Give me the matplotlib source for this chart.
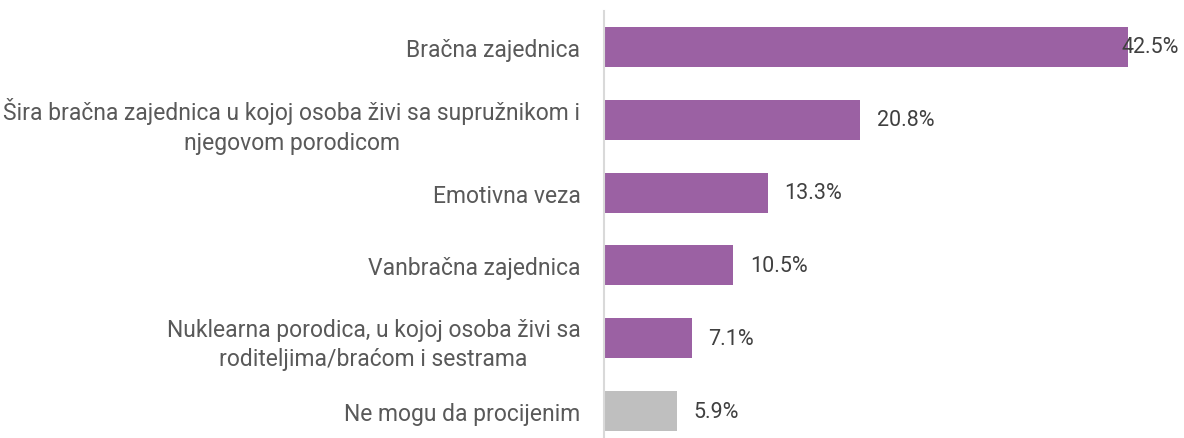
import matplotlib
matplotlib.use("Agg")
import matplotlib.pyplot as plt

categories = [
    "Bračna zajednica",
    "Šira bračna zajednica u kojoj osoba živi sa supružnikom i\nnjegovom porodicom",
    "Emotivna veza",
    "Vanbračna zajednica",
    "Nuklearna porodica, u kojoj osoba živi sa\nroditeljima/braćom i sestrama",
    "Ne mogu da procijenim",
]
values = [42.5, 20.8, 13.3, 10.5, 7.1, 5.9]
labels = ["42.5%", "20.8%", "13.3%", "10.5%", "7.1%", "5.9%"]
colors = ["#9B61A3"] * 5 + ["#BFBFBF"]

plt.rcParams["font.family"] = ["Roboto", "DejaVu Sans"]

W, H = 1184, 439
fig = plt.figure(figsize=(W / 100, H / 100), dpi=100)
left = 604 / W
right = 1128 / W
top = 1 - 11.5 / H
bottom = 1 - 448.5 / H
ax = fig.add_axes([left, bottom, right - left, top - bottom])

n = len(values)
ypos = list(range(n))
ax.barh(ypos, values, height=0.55, color=colors, zorder=2)
ax.set_ylim(n - 0.5, -0.5)
ax.set_xlim(0, max(values))

ax.set_yticks(ypos)
ax.set_yticklabels(categories, fontsize=16.5, color="#595959", fontweight="normal",
                   multialignment="center", linespacing=1.35)
ax.tick_params(axis="y", length=0, pad=17)
ax.set_xticks([])
for s in ["top", "right", "bottom"]:
    ax.spines[s].set_visible(False)
ax.spines["left"].set_color("#D9D9D9")
ax.spines["left"].set_linewidth(1.5)

vmax = max(values)
for y, v, lab in zip(ypos, values, labels):
    off = -5 if v >= vmax else 12
    ax.annotate(lab, xy=(v, y), xytext=(off, 0), textcoords="offset points",
                ha="left", va="center", fontsize=15.5, fontweight="normal",
                color="#404040", annotation_clip=False)

fig.savefig("out.png", dpi=100)
